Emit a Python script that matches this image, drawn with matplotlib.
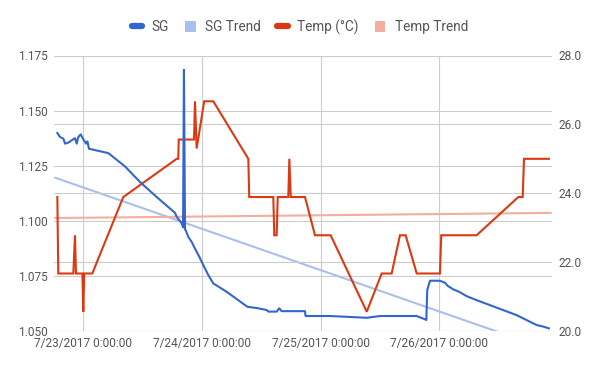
import matplotlib
matplotlib.use("Agg")
import matplotlib.pyplot as plt
import matplotlib.dates as mdates
from matplotlib.lines import Line2D
from matplotlib.patches import Patch
import pandas as pd

plt.rcParams['font.family'] = ['Roboto', 'DejaVu Sans']

# ---------------- data ----------------
sg_times = [
    "2017-07-22 18:45", "2017-07-22 19:18", "2017-07-22 19:58", "2017-07-22 20:18",
    "2017-07-22 20:59", "2017-07-22 21:39", "2017-07-22 22:19", "2017-07-22 22:40",
    "2017-07-22 22:59", "2017-07-22 23:28", "2017-07-23 00:00", "2017-07-23 00:33",
    "2017-07-23 00:50", "2017-07-23 01:09", "2017-07-23 05:04", "2017-07-23 08:25",
    "2017-07-23 11:28", "2017-07-23 14:50", "2017-07-23 18:33", "2017-07-23 18:53",
    "2017-07-23 19:54", "2017-07-23 20:10", "2017-07-23 20:21", "2017-07-23 20:34",
    "2017-07-23 20:43", "2017-07-23 21:14", "2017-07-23 21:55", "2017-07-23 22:35",
    "2017-07-23 23:27", "2017-07-24 00:16", "2017-07-24 01:16", "2017-07-24 02:17",
    "2017-07-24 04:59", "2017-07-24 09:10", "2017-07-24 11:23", "2017-07-24 13:05",
    "2017-07-24 13:25", "2017-07-24 15:06", "2017-07-24 15:37", "2017-07-24 16:06",
    "2017-07-24 20:50", "2017-07-24 20:56", "2017-07-25 01:52", "2017-07-25 09:19",
    "2017-07-25 12:00", "2017-07-25 19:25", "2017-07-25 21:06", "2017-07-25 21:22",
    "2017-07-25 21:33", "2017-07-25 22:06", "2017-07-26 00:07", "2017-07-26 01:08",
    "2017-07-26 01:40", "2017-07-26 02:49", "2017-07-26 04:00", "2017-07-26 05:31",
    "2017-07-26 07:32", "2017-07-26 15:37", "2017-07-26 16:58", "2017-07-26 19:41",
    "2017-07-26 21:00", "2017-07-26 22:09",
]
sg_values = [
    1.1398, 1.1380, 1.1373, 1.1350,
    1.1355, 1.1365, 1.1375, 1.1350,
    1.1380, 1.1392, 1.1370, 1.1350,
    1.1360, 1.1327, 1.1307, 1.1247,
    1.1176, 1.1108, 1.1036, 1.1018,
    1.0988, 1.0970, 1.1685, 1.0960,
    1.0957, 1.0927, 1.0904, 1.0874,
    1.0837, 1.0799, 1.0754, 1.0716,
    1.0678, 1.0610, 1.0603, 1.0595,
    1.0588, 1.0588, 1.0603, 1.0590,
    1.0590, 1.0568, 1.0568, 1.0560,
    1.0568, 1.0568, 1.0553, 1.0550,
    1.0686, 1.0728, 1.0728, 1.0719,
    1.0705, 1.0689, 1.0678, 1.0658,
    1.0640, 1.0572, 1.0557, 1.0527,
    1.0520, 1.0512,
]

temp_times = [
    "2017-07-22 18:45", "2017-07-22 18:56", "2017-07-22 21:59", "2017-07-22 22:19",
    "2017-07-22 22:31", "2017-07-22 23:49", "2017-07-23 00:00", "2017-07-23 00:11",
    "2017-07-23 01:49", "2017-07-23 08:05", "2017-07-23 18:53", "2017-07-23 19:12",
    "2017-07-23 19:18", "2017-07-23 22:23", "2017-07-23 22:35", "2017-07-23 22:55",
    "2017-07-24 00:27", "2017-07-24 02:17", "2017-07-24 09:22", "2017-07-24 09:33",
    "2017-07-24 14:25", "2017-07-24 14:37", "2017-07-24 15:06", "2017-07-24 15:19",
    "2017-07-24 17:27", "2017-07-24 17:40", "2017-07-24 17:57", "2017-07-24 20:50",
    "2017-07-24 22:51", "2017-07-25 02:01", "2017-07-25 09:19", "2017-07-25 12:20",
    "2017-07-25 14:21", "2017-07-25 16:02", "2017-07-25 17:11", "2017-07-25 19:25",
    "2017-07-26 00:07", "2017-07-26 00:23", "2017-07-26 07:32", "2017-07-26 15:58",
    "2017-07-26 16:51", "2017-07-26 17:07", "2017-07-26 22:09",
]
temp_values = [
    23.89, 21.67, 21.67, 22.78,
    21.67, 21.67, 20.56, 21.67,
    21.67, 23.89, 25.00, 25.00,
    25.56, 25.56, 26.67, 25.30,
    26.67, 26.67, 25.00, 23.89,
    23.89, 22.78, 22.78, 23.89,
    23.89, 25.00, 23.89, 23.89,
    22.78, 22.78, 20.56, 21.67,
    21.67, 22.78, 22.78, 21.67,
    21.67, 22.78, 22.78, 23.89,
    23.89, 25.00, 25.00,
]

trend_times = ["2017-07-22 18:08", "2017-07-26 22:43"]
sg_trend = [1.1197, 1.0411]
temp_trend = [23.28, 23.43]

x_ticks = ["2017-07-23", "2017-07-24", "2017-07-25", "2017-07-26"]
x_tick_labels = ["7/23/2017 0:00:00", "7/24/2017 0:00:00",
                 "7/25/2017 0:00:00", "7/26/2017 0:00:00"]
sg_ticks = [1.050, 1.075, 1.100, 1.125, 1.150, 1.175]
temp_ticks = [20.0, 22.0, 24.0, 26.0, 28.0]
x_range = ["2017-07-22 18:08", "2017-07-26 22:43"]

# ---------------- styling ----------------
SG_C = "#3366cc"
TEMP_C = "#dc3912"
SG_TR_C = "#a9bfec"
TEMP_TR_C = "#f2ae9e"
GRID_C = "#cccccc"
TXT_C = "#555555"

sg_t = pd.to_datetime(sg_times)
temp_t = pd.to_datetime(temp_times)
tr_t = pd.to_datetime(trend_times)

fig = plt.figure(figsize=(6.0, 3.71), dpi=100)
pos = [54.3 / 600, 1 - 331 / 371, (551.7 - 54.3) / 600, (331 - 55.5) / 371]
ax = fig.add_axes(pos)
ax2 = ax.twinx()
ax3 = fig.add_axes(pos, sharex=ax, sharey=ax)

for a in (ax, ax2, ax3):
    for s in a.spines.values():
        s.set_visible(False)
    a.tick_params(length=0)

ax.set_zorder(0)
ax2.set_zorder(1)
ax3.set_zorder(2)
ax2.patch.set_visible(False)
ax3.patch.set_visible(False)

# grids
ax.set_xlim(pd.to_datetime(x_range[0]), pd.to_datetime(x_range[1]))
ax.set_ylim(sg_ticks[0], sg_ticks[-1])
ax2.set_ylim(temp_ticks[0], temp_ticks[-1])
ax.set_xticks(pd.to_datetime(x_ticks))
ax.set_xticklabels(x_tick_labels)
ax.set_yticks(sg_ticks)
ax.set_yticklabels([f"{v:.3f}" for v in sg_ticks])
ax2.set_yticks(temp_ticks)
ax2.set_yticklabels([f"{v:.1f}" for v in temp_ticks])
ax.grid(True, color=GRID_C, lw=0.8)
ax2.grid(True, axis='y', color=GRID_C, lw=0.8)
ax.set_axisbelow(True)
ax2.set_axisbelow(True)

ax.tick_params(axis='x', pad=4, labelsize=8.6, labelcolor=TXT_C)
ax.tick_params(axis='y', pad=5, labelsize=8.6, labelcolor=TXT_C)
ax2.tick_params(axis='y', pad=5, labelsize=8.6, labelcolor=TXT_C)
ax3.tick_params(labelleft=False, labelbottom=False, left=False, bottom=False)
ax3.grid(False)

# lines
ax.plot(tr_t, sg_trend, color=SG_TR_C, lw=1.5, solid_capstyle='butt')
ax2.plot(tr_t, temp_trend, color=TEMP_TR_C, lw=1.5, solid_capstyle='butt')
ax2.plot(temp_t, temp_values, color=TEMP_C, lw=1.5, solid_joinstyle='miter')
ax3.plot(sg_t, sg_values, color=SG_C, lw=1.5)
ax3.set_xlim(pd.to_datetime(x_range[0]), pd.to_datetime(x_range[1]))
ax3.set_ylim(sg_ticks[0], sg_ticks[-1])

# legend
handles = [
    Line2D([], [], color=SG_C, lw=4.5, solid_capstyle='round'),
    Patch(facecolor=SG_TR_C, edgecolor='none'),
    Line2D([], [], color=TEMP_C, lw=4.5, solid_capstyle='round'),
    Patch(facecolor=TEMP_TR_C, edgecolor='none'),
]
labels = ["SG", "SG Trend", "Temp (°C)", "Temp Trend"]
leg = fig.legend(handles, labels, loc='center', bbox_to_anchor=(0.5, 1 - 27 / 371),
                 ncol=4, frameon=False, fontsize=9.8, handlelength=0.75,
                 handleheight=0.85, handletextpad=0.7, columnspacing=1.2,
                 labelcolor=TXT_C, borderaxespad=0, borderpad=0)

fig.savefig("out.png", dpi=100)
